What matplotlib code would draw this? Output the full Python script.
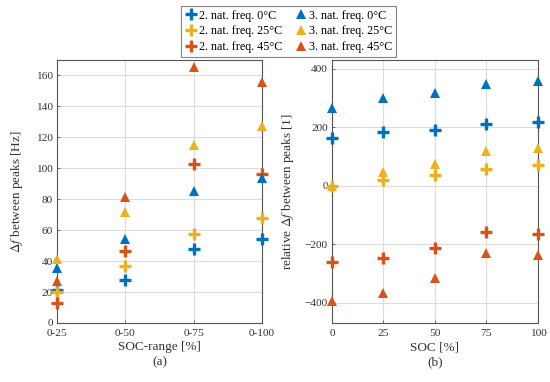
import numpy as np
import matplotlib
matplotlib.use("Agg")
import matplotlib.pyplot as plt

plt.rcParams['font.family'] = ['Liberation Serif', 'DejaVu Serif']
plt.rcParams['mathtext.fontset'] = 'stix'

# colours (MATLAB default order)
c_blue, c_yel, c_red = '#0072BD', '#EDB120', '#D95319'

# (a) absolute difference vs SOC-range
ranges = ['0-25', '0-50', '0-75', '0-100']
a_f2_0 = [21, 27.5, 48, 54]
a_f2_25 = [20, 37, 57.5, 68]
a_f2_45 = [13, 46.5, 103, 96]
a_f3_0 = [35.5, 54.5, 85, 94]
a_f3_25 = [41.5, 72, 115, 127]
a_f3_45 = [27, 81.5, 165.5, 156]

# (b) relative difference vs SOC
soc = [0, 25, 50, 75, 100]
b_f2_0 = [162, 183, 191, 212, 217]
b_f2_25 = [0, 18, 38, 57, 70]
b_f2_45 = [-260, -246, -212, -157, -165]
b_f3_0 = [264, 301, 318, 349, 358]
b_f3_25 = [0, 47, 75, 118, 129]
b_f3_45 = [-395, -367, -315, -229, -238]

labels = ['2. nat. freq. 0°C', '2. nat. freq. 25°C', '2. nat. freq. 45°C',
          '3. nat. freq. 0°C', '3. nat. freq. 25°C', '3. nat. freq. 45°C']

fig = plt.figure(figsize=(5.5, 3.82), dpi=100)
axa = fig.add_axes([0.1036, 0.1545, 0.3727, 0.6885])
axb = fig.add_axes([0.6036, 0.1545, 0.3745, 0.6885])

def style(ax):
    ax.grid(True, color='#dcdcdc', lw=0.8)
    ax.set_axisbelow(True)
    for s in ax.spines.values():
        s.set_color('#555555')
        s.set_linewidth(0.8)
    ax.tick_params(direction='in', length=2.5, width=0.6, colors='#555555',
                   labelcolor='#333333', labelsize=8.2, pad=3)
    ax.tick_params(axis='x', pad=4.5)

def draw(ax, x, series):
    handles = []
    for ys, col, mk in series:
        if mk == '+':
            h = ax.plot(x, ys, ls='none', marker='+', color=col, ms=8.5,
                        mew=2.4, clip_on=False, zorder=3)[0]
        else:
            h = ax.plot(x, ys, ls='none', marker='^', color=col, ms=7,
                        mew=0, clip_on=False, zorder=3)[0]
        handles.append(h)
    return handles

xa = np.arange(len(ranges))
hs = draw(axa, xa, [(a_f2_0, c_blue, '+'), (a_f2_25, c_yel, '+'), (a_f2_45, c_red, '+'),
                    (a_f3_0, c_blue, '^'), (a_f3_25, c_yel, '^'), (a_f3_45, c_red, '^')])
style(axa)
axa.set_xlim(0, 3)
axa.set_ylim(0, 170)
axa.set_xticks(xa)
axa.set_xticklabels(ranges)
axa.set_yticks(np.arange(0, 161, 20))
axa.set_xlabel('SOC-range [%]\n(a)', fontsize=9.5, color='#333333', labelpad=2,
               linespacing=1.4)
axa.set_ylabel(r'$\Delta f$ between peaks [Hz]', fontsize=9.5, color='#333333',
               labelpad=8)

draw(axb, soc, [(b_f2_0, c_blue, '+'), (b_f2_25, c_yel, '+'), (b_f2_45, c_red, '+'),
                (b_f3_0, c_blue, '^'), (b_f3_25, c_yel, '^'), (b_f3_45, c_red, '^')])
style(axb)
axb.set_xlim(0, 100)
axb.set_ylim(-470, 430)
axb.set_xticks(soc)
axb.set_yticks([-400, -200, 0, 200, 400])
axb.set_yticklabels(['\u2212400', '\u2212200', '0', '200', '400'])
axb.set_xlabel('SOC [%]\n(b)', fontsize=9.5, color='#333333', labelpad=2,
               linespacing=1.4)
axb.set_ylabel(r'relative $\Delta f$ between peaks [1]', fontsize=9.5, color='#333333',
               labelpad=6)

leg = fig.legend(hs, labels, ncol=2, loc='upper center', bbox_to_anchor=(0.525, 1.0),
                 fontsize=8.7, frameon=True, fancybox=False, edgecolor='#666666',
                 handletextpad=0.1, columnspacing=1.0, handlelength=1.1,
                 borderpad=0.3, labelspacing=0.3)
leg.get_frame().set_linewidth(0.8)

fig.savefig('out.png', dpi=100)
